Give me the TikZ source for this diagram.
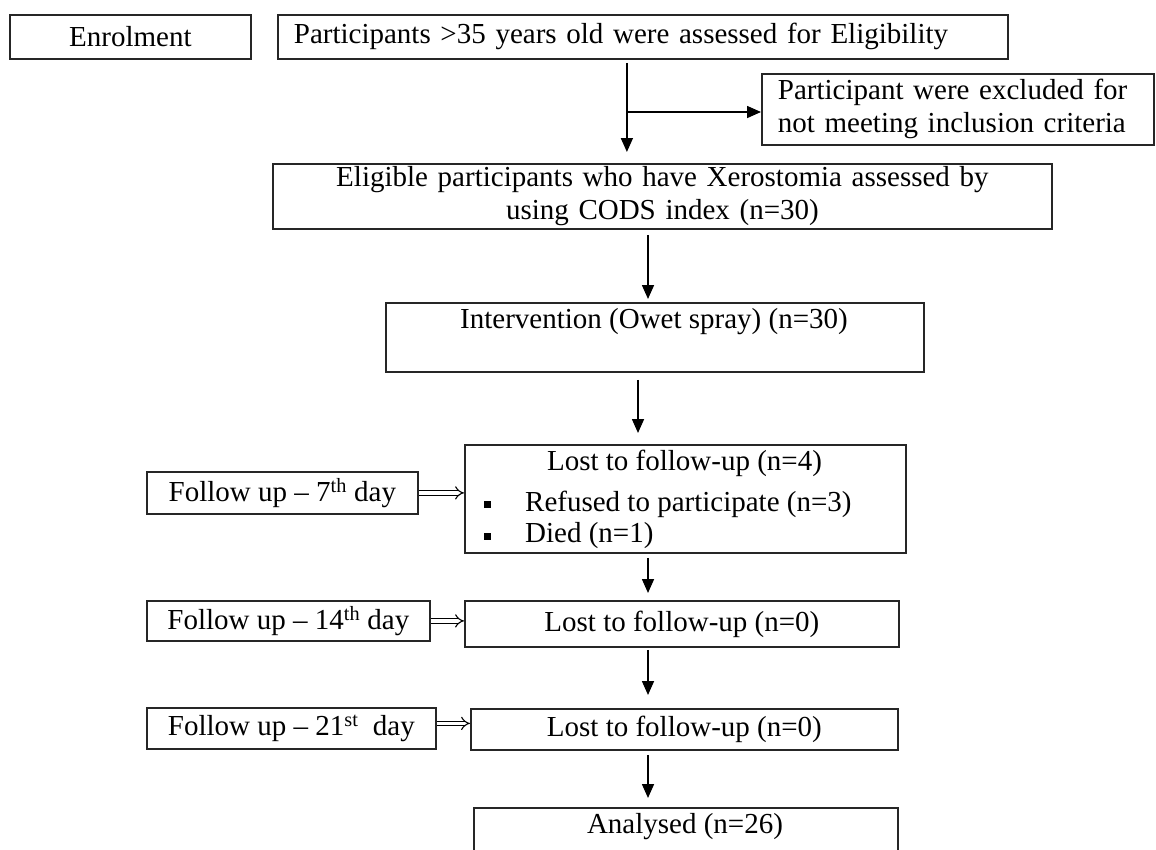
\documentclass[tikz,border=0pt]{standalone}
\usepackage{fontspec}
\setmainfont{Liberation Serif}
\usetikzlibrary{arrows.meta,calc}
\begin{document}
\begin{tikzpicture}[x=1pt,y=-1pt,
  box/.style={draw=black!85, line width=1.8pt, inner sep=0pt, anchor=north west, font=\fontsize{29}{33}\selectfont},
  txt/.style={inner sep=0pt, font=\fontsize{29}{33}\selectfont},
  arr/.style={line width=1.6pt, -{Triangle[length=14pt,width=12pt]}},
  dbl/.style={double, double distance=3.5pt, line width=1.1pt, -{Implies}},
]
\useasboundingbox (0,0) rectangle (1156,849);
\fill[white] (0,0) rectangle (1156,849);

\node[box, minimum width=241pt, minimum height=44pt] (en) at (9,14) {Enrolment};
\node[box, minimum width=730pt, minimum height=44pt, align=left, text width=698pt, inner xsep=16pt] (pa) at (277,14) {Participants >35 years old were assessed for Eligibility};
\node[box, minimum width=392pt, minimum height=71pt, align=left, text width=360pt, inner xsep=16pt] (ex) at (761,73) {Participant were excluded for\\not meeting inclusion criteria};
\node[box, minimum width=779pt, minimum height=65pt, align=center, text width=760pt] (el) at (272,163) {Eligible participants who have Xerostomia assessed by\\using CODS index (n=30)};

\node[box, minimum width=538pt, minimum height=69pt] (iv) at (385,302) {};
\node[txt] (ivt) at (654,322) {Intervention (Owet spray) (n=30)};

\node[box, minimum width=441pt, minimum height=108pt] (l1) at (464,444) {};
\node[txt] (l1t) at (684.5,463) {Lost to follow-up (n=4)};
\node[txt, anchor=west] (l1a) at (484,504) {\rule[3pt]{7pt}{7pt}\hspace{34pt}Refused to participate (n=3)};
\node[txt, anchor=west] (l1b) at (484,536) {\rule[3pt]{7pt}{7pt}\hspace{34pt}Died (n=1)};

\node[box, minimum width=271pt, minimum height=42pt] (f7) at (146,471) {Follow up – 7\textsuperscript{th} day};
\node[box, minimum width=434pt, minimum height=46pt] (l2) at (464,600) {Lost to follow-up (n=0)};
\node[box, minimum width=283pt, minimum height=40pt] (f14) at (146,600) {Follow up – 14\textsuperscript{th} day};
\node[box, minimum width=289pt, minimum height=41pt] (f21) at (146,707) {Follow up – 21\textsuperscript{st}\ \ day};
\node[box, minimum width=427pt, minimum height=41pt] (l3) at (470,708) {Lost to follow-up (n=0)};
\node[box, minimum width=424pt, minimum height=48pt] (an) at (473,807) {};
\node[txt] (ant) at (685,827) {Analysed (n=26)};

\coordinate (cA) at (648,0);
\coordinate (cB) at (638,0);
\coordinate (br) at (626,112);

\draw[arr, shorten <=3pt, shorten >=11pt] ([xshift=-16pt]pa.south) -- ([xshift=-16pt]pa.south |- el.north);
\draw[arr] (br) -- (br -| ex.west);
\draw[arr, shorten <=5pt, shorten >=3pt] (el.south -| cA) -- (iv.north -| cA);
\draw[arr, shorten <=7pt, shorten >=11pt] (iv.south -| cB) -- (l1.north -| cB);
\draw[arr, shorten <=4pt, shorten >=7pt] (l1.south -| cA) -- (l2.north -| cA);
\draw[arr, shorten <=2pt, shorten >=13pt] (l2.south -| cA) -- (l3.north -| cA);
\draw[arr, shorten <=4pt, shorten >=9pt] (l3.south -| cA) -- (an.north -| cA);

\draw[dbl] (f7.east) -- (f7.east -| l1.west);
\draw[dbl] (f14.east) -- (f14.east -| l2.west);
\draw[dbl] ([yshift=5pt]f21.east) -- ([yshift=5pt]f21.east -| l3.west);
\end{tikzpicture}
\end{document}
